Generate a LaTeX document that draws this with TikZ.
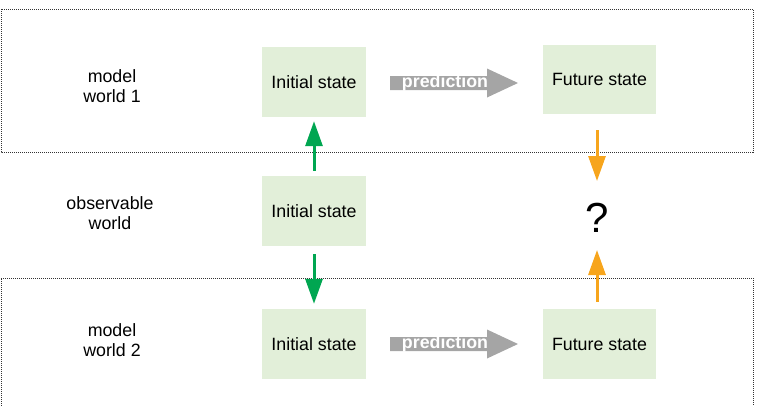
\documentclass[tikz,border=0pt]{standalone}
\usepackage{fontspec}
\setmainfont{Liberation Sans}
\usetikzlibrary{arrows.meta}
\definecolor{boxgreen}{HTML}{E2EFD9}
\definecolor{arrgreen}{HTML}{00A651}
\definecolor{arrorange}{HTML}{F7A51C}
\definecolor{predgray}{HTML}{A5A5A5}
\definecolor{frame}{HTML}{333333}
\tikzset{
  statebox/.style={fill=boxgreen, draw=none, inner sep=0pt, font=\fontsize{17.8}{20}\selectfont},
  label/.style={align=center, font=\fontsize{17.8}{20}\selectfont},
  worldframe/.style={draw=frame, line width=0.9pt, dash pattern=on 1pt off 1pt},
  greenarr/.style={draw=arrgreen, line width=3pt, -{Triangle[length=25pt 0 0,width=17pt 0 0]}},
  orangearr/.style={draw=arrorange, line width=3pt, -{Triangle[length=25pt 0 0,width=17pt 0 0]}},
  predtext/.style={text=white, font=\bfseries\fontsize{17.8}{20}\selectfont, inner sep=0pt}
}
\begin{document}
\begin{tikzpicture}[x=1pt,y=-1pt]
\useasboundingbox (0,0) rectangle (758,405);
% world frames
\draw[worldframe] (1,9) rectangle (753,152);
\draw[worldframe] (1,410) |- (753,278) -- (753,410);
% labels
\node[label] (lw1) at (112,86) {model\\world 1};
\node[label] (lobs) at (110,213) {observable\\world};
\node[label] (lw2) at (112,340) {model\\world 2};
% state boxes
\node[statebox, minimum width=104pt, minimum height=70pt] (i1) at (314,82) {Initial state};
\node[statebox, minimum width=113pt, minimum height=69pt] (f1) at (599.5,79.5) {Future state};
\node[statebox, minimum width=104pt, minimum height=70pt] (im) at (314,211) {Initial state};
\node[statebox, minimum width=104pt, minimum height=70pt] (i2) at (314,344) {Initial state};
\node[statebox, minimum width=113pt, minimum height=70pt] (f2) at (599.5,344) {Future state};
\node[font=\fontsize{42}{46}\selectfont, inner sep=0pt] (q) at (597,218) {?};
% prediction arrows
\foreach \y/\n in {83/p1,344/p2}{
  \fill[predgray] (390,\y-7) -- (487,\y-7) -- (487,\y-14.5) -- (518,\y) -- (487,\y+14.5) -- (487,\y+7) -- (390,\y+7) -- cycle;
  \node[predtext] (\n) at (445,\y) {prediction};
}
% green arrows
\draw[greenarr, shorten <=5pt, shorten >=4pt] (im.north) -- (i1.south);
\draw[greenarr, shorten <=8pt, shorten >=5pt] (im.south) -- (i2.north);
% orange arrows
\draw[orangearr, shorten <=16pt] (f1.south -| q) -- ([yshift=37pt]q.center);
\draw[orangearr, shorten <=7pt] (f2.north -| q) -- ([yshift=-32pt]q.center);
\end{tikzpicture}
\end{document}
